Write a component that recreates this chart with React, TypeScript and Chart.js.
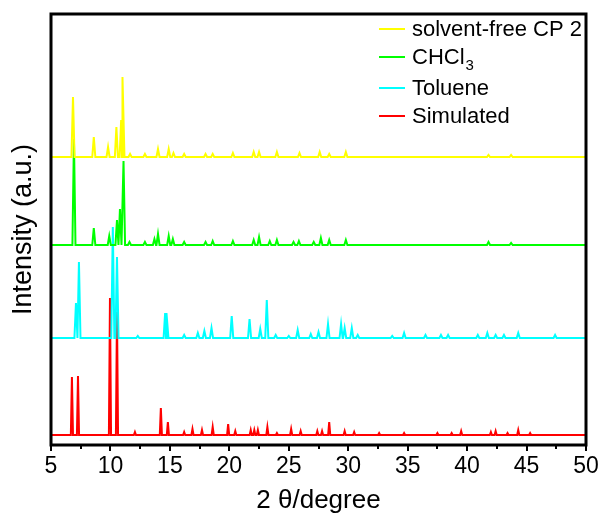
import React, { useEffect, useRef } from "react";
import { Chart, registerables } from "chart.js";

Chart.register(...registerables);

// 2θ axis
const xMin = 5;
const xMax = 50;
const xStep = 5;
const yMax = 431;

// Series names, colours and vertical offsets (stacked patterns)
const seriesNames = ["solvent-free CP 2", "CHCl3", "Toluene", "Simulated"];
const seriesColors = ["#FFFF00", "#00FF00", "#00FFFF", "#FF0000"];
const seriesOffsets = [288, 200, 107, 10];

// Peak positions (2θ) and heights
const solventFreePos = [6.85, 8.6, 9.8, 10.5, 10.9, 11.05, 11.65, 12.9, 14.0, 14.9, 15.3, 16.2, 18.0, 18.6, 20.3, 22.05, 22.5, 24.0, 25.9, 27.6, 28.4, 29.8, 41.8, 43.7];
const solventFreeH = [60, 20, 10, 30, 37, 80, 3, 3, 8, 8, 4, 3, 3, 3, 4, 5, 5, 5, 4, 5, 3, 5, 2, 2];

const chcl3Pos = [6.93, 8.6, 9.9, 10.55, 10.8, 11.1, 11.6, 12.9, 13.7, 14.0, 14.9, 15.25, 16.2, 18.0, 18.6, 20.3, 22.05, 22.5, 23.4, 24.0, 25.4, 25.85, 27.1, 27.7, 28.4, 29.8, 41.8, 43.7];
const chcl3H = [106, 17, 9, 25, 36, 84, 3, 3, 6, 11, 9, 6, 3, 3, 4, 4, 5, 8, 4, 5, 3, 4, 3, 7, 5, 5, 3, 2];

const toluenePos = [7.1, 7.35, 10.2, 10.55, 12.3, 14.6, 14.75, 16.2, 17.35, 17.9, 18.5, 20.2, 21.7, 22.6, 23.15, 23.9, 25.0, 25.75, 26.85, 27.5, 28.3, 29.4, 29.7, 30.3, 30.8, 33.7, 34.7, 36.5, 37.8, 38.4, 40.9, 41.7, 42.4, 43.1, 44.3, 47.4];
const tolueneH = [35, 76, 111, 81, 2, 25, 25, 3, 5, 7, 10, 22, 19, 9, 38, 3, 2, 8, 4, 6, 14, 14, 10, 10, 3, 2, 5, 3, 3, 3, 3, 5, 3, 3, 5, 3];

const simulatedPos = [6.76, 7.27, 9.96, 10.55, 12.06, 14.24, 14.83, 16.2, 16.9, 17.7, 18.6, 19.9, 20.5, 21.8, 22.1, 22.4, 23.2, 24.0, 25.2, 26.0, 27.4, 27.8, 28.4, 29.7, 30.5, 32.6, 34.7, 37.5, 38.7, 39.5, 42.0, 42.4, 43.4, 44.3, 45.3];
const simulatedH = [58, 59, 137, 123, 3, 27, 13, 3, 6, 5, 8, 11, 4, 5, 5, 5, 8, 2, 6, 4, 4, 4, 13, 4, 3, 2, 2, 2, 2, 4, 3, 4, 2, 5, 2];

const majorTicks = [5, 10, 15, 20, 25, 30, 35, 40, 45, 50];
const minorTicks = [7.5, 12.5, 17.5, 22.5, 27.5, 32.5, 37.5, 42.5, 47.5];

const FONT = "'Liberation Sans', Arial, Helvetica, sans-serif";

function buildPattern(pos: number[], h: number[], offset: number, halfWidth: number) {
  const pts: { x: number; y: number }[] = [{ x: xMin, y: offset }];
  for (let i = 0; i < pos.length; i++) {
    const p = pos[i];
    const lg = i > 0 ? p - pos[i - 1] : Infinity;
    const rg = i < pos.length - 1 ? pos[i + 1] - p : Infinity;
    const wl = Math.min(halfWidth, lg / 2);
    const wr = Math.min(halfWidth, rg / 2);
    pts.push({ x: p - wl, y: offset }, { x: p, y: offset + h[i] }, { x: p + wr, y: offset });
  }
  pts.push({ x: xMax, y: offset });
  return pts;
}

const framePlugin = {
  id: "frameAndLegend",
  afterDraw(chart: any) {
    const { ctx, chartArea } = chart;
    const xs = chart.scales.x;
    ctx.save();
    ctx.strokeStyle = "#000";
    ctx.lineWidth = 2;
    for (const v of majorTicks) {
      const px = Math.round(xs.getPixelForValue(v));
      ctx.beginPath();
      ctx.moveTo(px, chartArea.bottom);
      ctx.lineTo(px, chartArea.bottom + 6);
      ctx.stroke();
    }
    for (const v of minorTicks) {
      const px = Math.round(xs.getPixelForValue(v));
      ctx.beginPath();
      ctx.moveTo(px, chartArea.bottom);
      ctx.lineTo(px, chartArea.bottom + 4);
      ctx.stroke();
    }
    // frame
    ctx.lineWidth = 3;
    ctx.strokeRect(chartArea.left, chartArea.top, chartArea.right - chartArea.left, chartArea.bottom - chartArea.top);
    // legend
    const lx0 = chartArea.left + 328;
    const lx1 = chartArea.left + 354;
    const tx = chartArea.left + 361;
    const rowY = [15, 43, 74, 102];
    ctx.textBaseline = "middle";
    ctx.textAlign = "left";
    for (let i = 0; i < seriesNames.length; i++) {
      const y = chartArea.top + rowY[i];
      ctx.strokeStyle = seriesColors[i];
      ctx.lineWidth = 2;
      ctx.beginPath();
      ctx.moveTo(lx0, y);
      ctx.lineTo(lx1, y);
      ctx.stroke();
      ctx.fillStyle = "#000";
      ctx.font = `22px ${FONT}`;
      const name = seriesNames[i];
      if (name === "CHCl3") {
        ctx.fillText("CHCl", tx, y + 1);
        const w = ctx.measureText("CHCl").width;
        ctx.font = `15px ${FONT}`;
        ctx.fillText("3", tx + w + 1, y + 9);
      } else {
        ctx.fillText(name, tx, y + 1);
      }
    }
    ctx.restore();
  },
};

export default function App() {
  const ref = useRef<HTMLCanvasElement>(null);
  useEffect(() => {
    const allPos = [solventFreePos, chcl3Pos, toluenePos, simulatedPos];
    const allH = [solventFreeH, chcl3H, tolueneH, simulatedH];
    const widths = [0.13, 0.13, 0.13, 0.09];
    const datasets = seriesNames.map((name, i) => ({
      label: name,
      data: buildPattern(allPos[i], allH[i], seriesOffsets[i], widths[i]),
      borderColor: seriesColors[i],
      backgroundColor: seriesColors[i],
      borderWidth: 2,
      pointRadius: 0,
      tension: 0,
      fill: false,
    }));
    const chart = new Chart(ref.current as HTMLCanvasElement, {
      type: "line",
      data: { datasets },
      options: {
        animation: false,
        responsive: false,
        devicePixelRatio: 1,
        layout: { padding: { left: 6, right: 18, top: 14, bottom: 3.5 } },
        plugins: { legend: { display: false }, tooltip: { enabled: false } },
        scales: {
          x: {
            type: "linear",
            min: xMin,
            max: xMax,
            afterFit: (s: any) => {
              s.paddingLeft = 0;
              s.paddingRight = 0;
            },
            ticks: { stepSize: xStep, color: "#000", font: { family: FONT, size: 23, lineHeight: 0.9 }, padding: 11, maxRotation: 0 },
            grid: { display: true, drawOnChartArea: false, drawTicks: false, tickLength: 0, color: "rgba(0,0,0,0)" },
            border: { display: false },
            title: { display: true, text: "2 θ/degree", color: "#000", font: { family: FONT, size: 26, lineHeight: 0.8 }, padding: { top: 3, bottom: 0 } },
          },
          y: {
            type: "linear",
            min: 0,
            max: yMax,
            ticks: { display: false },
            grid: { display: false },
            border: { display: false },
            title: { display: true, text: "Intensity (a.u.)", color: "#000", font: { family: FONT, size: 27, lineHeight: 1 }, padding: { top: 4, bottom: 6 } },
          },
        },
      },
      plugins: [framePlugin],
    });
    return () => chart.destroy();
  }, []);
  return (
    <div style={{ position: "absolute", left: 0, top: 0, width: 604, height: 515, background: "#fff" }}>
      <canvas ref={ref} width={604} height={515} />
    </div>
  );
}
